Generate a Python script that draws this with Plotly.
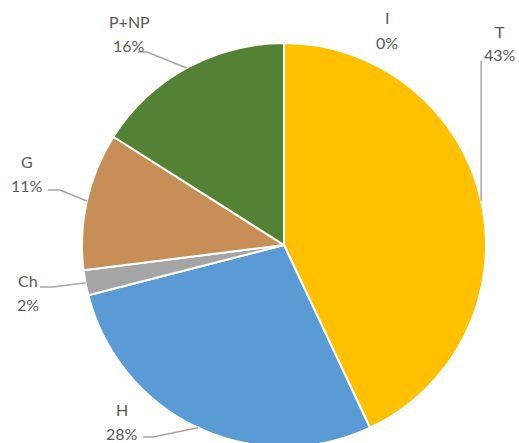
import math
import plotly.graph_objects as go

# ---- data ----
labels = ["I", "T", "H", "Ch", "G", "P+NP"]
values = [0, 43, 28, 2, 11, 16]
colors = ["#A5A5A5", "#FFC000", "#5B9BD5", "#A5A5A5", "#C78F57", "#548235"]

# ---- layout constants (pixels) ----
W, H = 519, 448
CX, CY, R = 284, 245, 202          # pie centre / radius in pixels
TEXT_COLOR = "#595959"
LINE_COLOR = "#A6A6A6"

# label placement: (centre x, centre y of first line) in pixels
label_pos = {
    "I": (387, 18),
    "T": (500, 31),
    "P+NP": (129, 21),
    "G": (27, 161),
    "Ch": (28, 280),
    "H": (122, 409),
}
LINE_GAP = 24
# leader line start (near label) as horizontal segment [x0, x1, y]; None = no leader
leader = {
    "P+NP": (138, 147, 52),
    "G": (48, 60, 190),
    "Ch": (40, 53, 287),
    "H": (143, 153, 437),
    "T": "vertical",
    "I": None,
}


def px(x):
    return x / W


def py(y):
    return 1 - y / H


fig = go.Figure(
    go.Pie(
        labels=labels,
        values=values,
        sort=False,
        direction="clockwise",
        rotation=0,
        marker=dict(colors=colors, line=dict(color="white", width=2)),
        textinfo="none",
        hoverinfo="label+percent",
        showlegend=False,
        domain=dict(x=[px(CX - R), px(CX + R)], y=[py(CY + R), py(CY - R)]),
    )
)

total = sum(values)
annotations = []
shapes = []
cum = 0.0
for lab, v in zip(labels, values):
    mid = (cum + v / 2) / total * 2 * math.pi
    cum += v
    ex = CX + R * math.sin(mid)
    ey = CY - R * math.cos(mid)
    lx, ly = label_pos[lab]
    pct = f"{round(v / total * 100)}%"
    for txt, yy in ((lab, ly), (pct, ly + LINE_GAP)):
        annotations.append(dict(
            x=px(lx), y=py(yy), xref="paper", yref="paper",
            text=txt, showarrow=False, xanchor="center", yanchor="middle",
            font=dict(family="Lato", size=16, color=TEXT_COLOR),
        ))
    ld = leader[lab]
    if ld is None:
        continue
    if ld == "vertical":
        pts = [(ex, ly + LINE_GAP + 6), (ex, ey)]
    else:
        x0, x1, y0 = ld
        pts = [(x0, y0), (x1, y0), (ex, ey)]
    path = "M " + " L ".join(f"{px(a):.5f},{py(b):.5f}" for a, b in pts)
    shapes.append(dict(type="path", path=path, xref="paper", yref="paper",
                       line=dict(color=LINE_COLOR, width=1.5)))

fig.update_layout(
    width=W, height=H,
    margin=dict(l=0, r=0, t=0, b=0),
    paper_bgcolor="white", plot_bgcolor="white",
    annotations=annotations, shapes=shapes,
)

fig.write_html(
    "out.html",
    config={"displayModeBar": False},
    post_script=(
        "document.body.style.margin='0';"
        "document.body.style.overflow='hidden';"
        "document.documentElement.style.overflow='hidden';"
    ),
)
